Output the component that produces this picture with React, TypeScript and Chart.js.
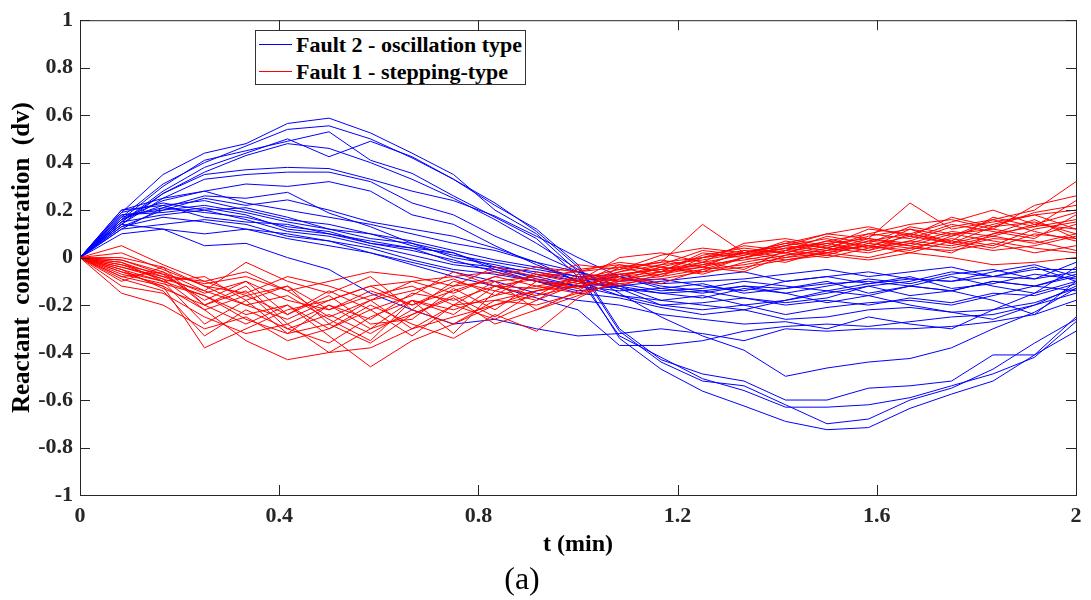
import React, { useEffect, useRef } from "react";
import { Chart, registerables } from "chart.js";

Chart.register(...registerables);

// time samples (min)
const tValues = [0, 0.0833, 0.1667, 0.25, 0.3333, 0.4167, 0.5, 0.5833, 0.6667, 0.75, 0.8333, 0.9167, 1, 1.0833, 1.1667, 1.25, 1.3333, 1.4167, 1.5, 1.5833, 1.6667, 1.75, 1.8333, 1.9167, 2];

const xTickValues = [0, 0.4, 0.8, 1.2, 1.6, 2];
const yTickValues = [-1, -0.8, -0.6, -0.4, -0.2, 0, 0.2, 0.4, 0.6, 0.8, 1];

const legendLabels = ["Fault 2 - oscillation type", "Fault 1 - stepping-type"];
const xTitle = "t (min)";
const yTitle = "Reactant  concentration  (dv)";
const caption = "(a)";

// Fault 2 - oscillation type (blue)
const blueA1 = [0, 0.19, 0.35, 0.44, 0.48, 0.565, 0.5875, 0.525, 0.44, 0.35, 0.2, 0.1, -0.06, -0.34, -0.47, -0.5625, -0.625, -0.69, -0.725, -0.716, -0.635, -0.575, -0.52, -0.41, -0.31];
const blueA2 = [0, 0.17, 0.31, 0.4, 0.47, 0.54, 0.555, 0.5, 0.42, 0.33, 0.23, 0.11, -0.04, -0.31, -0.44, -0.52, -0.54, -0.62, -0.7, -0.68, -0.6, -0.55, -0.47, -0.36, -0.26];
const blueA3 = [0, 0.16, 0.3, 0.41, 0.45, 0.49, 0.53, 0.41, 0.355, 0.26, 0.17, 0.08, -0.08, -0.33, -0.42, -0.51, -0.56, -0.63, -0.63, -0.62, -0.59, -0.54, -0.49, -0.42, -0.27];
const blueA4 = [0, 0.15, 0.28, 0.38, 0.44, 0.5, 0.425, 0.49, 0.425, 0.33, 0.22, 0.12, -0.03, -0.3, -0.43, -0.49, -0.52, -0.6, -0.6, -0.55, -0.54, -0.52, -0.41, -0.41, -0.25];
const blueA5 = [0, 0.14, 0.27, 0.36, 0.43, 0.48, 0.46, 0.4, 0.33, 0.25, 0.16, 0.06, -0.05, -0.15, -0.25, -0.33, -0.39, -0.5, -0.465, -0.44, -0.425, -0.38, -0.3, -0.23, -0.13];
const blueM1 = [0, 0.15, 0.27, 0.35, 0.37, 0.38, 0.375, 0.33, 0.28, 0.24, 0.175, 0.09, 0, -0.08, -0.12, -0.14, -0.12, -0.15, -0.12, -0.09, -0.11, -0.07, -0.05, -0.09, -0.06];
const blueM2 = [0, 0.14, 0.25, 0.33, 0.35, 0.36, 0.36, 0.32, 0.23, 0.18, 0.09, 0.02, -0.06, -0.12, -0.18, -0.2, -0.22, -0.18, -0.15, -0.12, -0.16, -0.14, -0.1, -0.12, -0.08];
const blueM3 = [0, 0.16, 0.24, 0.28, 0.31, 0.3, 0.32, 0.28, 0.18, 0.14, 0.05, -0.03, -0.1, -0.13, -0.15, -0.17, -0.13, -0.15, -0.19, -0.16, -0.12, -0.14, -0.18, -0.24, -0.1];
const blueM4 = [0, 0.12, 0.21, 0.26, 0.25, 0.275, 0.1875, 0.13, 0.06, 0.02, -0.05, -0.1, -0.12, -0.11, -0.14, -0.13, -0.1, -0.12, -0.14, -0.11, -0.08, -0.13, -0.11, -0.07, -0.09];
const blueM5 = [0, 0.13, 0.2, 0.25, 0.22, 0.243, 0.2, 0.15, 0.12, 0.09, 0.04, -0.02, -0.1, -0.16, -0.2, -0.22, -0.2, -0.24, -0.21, -0.19, -0.18, -0.2, -0.16, -0.12, -0.07];
const blueS1 = [0, 0.2, 0.25, 0.28, 0.23, 0.2, 0.17, 0.14, 0.1, 0.06, 0.03, -0.02, -0.06, -0.1, -0.09, -0.12, -0.14, -0.1, -0.08, -0.11, -0.09, -0.1, -0.06, -0.03, -0.08];
const blueS2 = [0, 0.19, 0.23, 0.2, 0.21, 0.17, 0.12, 0.1, 0.07, 0.03, -0.01, -0.04, -0.08, -0.12, -0.15, -0.14, -0.17, -0.19, -0.17, -0.12, -0.1, -0.06, -0.08, -0.04, -0.1];
const blueS3 = [0, 0.18, 0.2, 0.22, 0.19, 0.15, 0.12, 0.08, 0.06, 0, -0.03, -0.07, -0.1, -0.08, -0.13, -0.15, -0.12, -0.13, -0.1, -0.15, -0.12, -0.08, -0.12, -0.15, -0.04];
const blueS4 = [0, 0.16, 0.22, 0.17, 0.15, 0.14, 0.1, 0.07, 0.04, 0.02, -0.04, -0.06, -0.09, -0.13, -0.2, -0.19, -0.17, -0.2, -0.18, -0.2, -0.17, -0.19, -0.15, -0.16, -0.11];
const blueS5 = [0, 0.15, 0.18, 0.2, 0.16, 0.11, 0.09, 0.05, 0.01, -0.03, -0.05, -0.08, -0.12, -0.14, -0.13, -0.11, -0.15, -0.13, -0.11, -0.1, -0.12, -0.14, -0.1, -0.12, -0.14];
const blueS6 = [0, 0.17, 0.21, 0.19, 0.17, 0.13, 0.11, 0.06, 0.03, -0.01, -0.06, -0.1, -0.15, -0.17, -0.21, -0.24, -0.22, -0.26, -0.25, -0.22, -0.21, -0.23, -0.22, -0.19, -0.13];
const blueS7 = [0, 0.12, 0.14, 0.16, 0.14, 0.09, 0.07, 0.04, -0.01, -0.05, -0.07, -0.1, -0.14, -0.12, -0.1, -0.08, -0.06, -0.1, -0.08, -0.06, -0.09, -0.1, -0.08, -0.05, -0.05];
const blueS8 = [0, 0.14, 0.12, 0.1, 0.12, 0.08, 0.05, 0.02, -0.02, -0.06, -0.1, -0.15, -0.18, -0.2, -0.24, -0.26, -0.28, -0.27, -0.3, -0.25, -0.28, -0.3, -0.22, -0.15, -0.1];
const blueS9 = [0, 0.1, 0.12, 0.05, 0.06, 0, -0.05, -0.15, -0.22, -0.28, -0.26, -0.3, -0.33, -0.32, -0.3, -0.32, -0.35, -0.3, -0.31, -0.3, -0.3, -0.29, -0.27, -0.24, -0.18];
const blueS10 = [0, 0.13, 0.17, 0.15, 0.12, 0.1, 0.07, 0.02, -0.03, -0.08, -0.12, -0.17, -0.22, -0.37, -0.37, -0.35, -0.31, -0.29, -0.28, -0.29, -0.27, -0.25, -0.24, -0.2, -0.15];
const blueS11 = [0, 0.2, 0.22, 0.24, 0.2, 0.16, 0.14, 0.1, 0.05, 0.01, -0.02, -0.05, -0.08, -0.07, -0.11, -0.1, -0.09, -0.07, -0.05, -0.08, -0.06, -0.04, -0.08, -0.09, -0.02];
const blueS12 = [0, 0.18, 0.19, 0.21, 0.18, 0.12, 0.1, 0.06, 0.04, -0.02, -0.04, -0.09, -0.12, -0.16, -0.18, -0.16, -0.2, -0.18, -0.14, -0.16, -0.2, -0.23, -0.26, -0.2, -0.12];

// Fault 1 - stepping-type (red)
const red01 = [0, -0.02, -0.08, -0.15, -0.1, -0.18, -0.22, -0.14, -0.2, -0.12, -0.1, -0.08, -0.06, -0.04, -0.02, 0, 0.03, 0.02, 0.06, 0.08, 0.05, 0.1, 0.12, 0.09, 0.14];
const red02 = [0, -0.05, -0.1, -0.28, -0.18, -0.32, -0.2, -0.26, -0.15, -0.18, -0.12, -0.13, -0.1, -0.07, -0.05, -0.02, 0.01, 0.04, 0.02, 0.07, 0.1, 0.06, 0.13, 0.15, 0.1];
const red03 = [0, 0.05, -0.03, -0.1, -0.06, -0.14, -0.25, -0.18, -0.1, -0.08, -0.06, -0.1, -0.05, -0.03, -0.06, 0.02, 0, 0.05, 0.08, 0.04, 0.12, 0.09, 0.16, 0.2, 0.32];
const red04 = [0, -0.15, -0.2, -0.3, -0.25, -0.35, -0.3, -0.22, -0.33, -0.2, -0.18, -0.14, -0.12, -0.1, -0.08, -0.05, -0.03, 0, 0.02, 0, 0.04, 0.03, 0.06, 0.02, 0.05];
const red05 = [0, -0.1, -0.04, -0.2, -0.12, -0.28, -0.4, -0.3, -0.18, -0.22, -0.16, -0.12, -0.15, -0.08, -0.04, -0.06, 0, -0.02, 0.03, 0.05, 0.02, 0.07, 0.04, 0.1, 0.08];
const red06 = [0, -0.01, -0.06, -0.2, -0.28, -0.2, -0.33, -0.46, -0.35, -0.28, -0.2, -0.14, -0.1, -0.06, -0.03, -0.01, 0.02, 0.05, 0.03, 0.08, 0.06, 0.11, 0.09, 0.14, 0.12];
const red07 = [0, -0.08, -0.12, -0.38, -0.3, -0.22, -0.18, -0.12, -0.2, -0.14, -0.08, -0.12, -0.09, -0.05, -0.02, 0.14, 0.02, 0.06, 0.1, 0.08, 0.23, 0.12, 0.15, 0.18, 0.2];
const red08 = [0, -0.04, -0.09, -0.14, -0.02, -0.1, -0.15, -0.08, -0.22, -0.1, -0.14, -0.07, -0.11, -0.03, -0.06, 0.01, 0.04, 0.02, 0.07, 0.1, 0.08, 0.14, 0.11, 0.08, 0.18];
const red09 = [0, -0.06, -0.12, -0.22, -0.35, -0.43, -0.4, -0.38, -0.3, -0.25, -0.2, -0.16, -0.12, -0.08, -0.06, -0.03, -0.01, 0.02, 0, 0.04, 0.07, 0.05, 0.09, 0.06, 0.1];
const red10 = [0, 0.02, -0.05, -0.12, -0.2, -0.16, -0.26, -0.35, -0.18, -0.32, -0.14, -0.18, -0.08, -0.1, -0.04, -0.07, -0.02, 0.01, 0.05, 0.03, 0.1, 0.07, 0.17, 0.13, 0.24];
const red11 = [0, -0.03, -0.07, -0.18, -0.1, -0.24, -0.16, -0.28, -0.26, -0.13, -0.22, -0.1, -0.13, -0.06, -0.01, -0.04, 0.03, 0, 0.04, 0.09, 0.12, 0.06, 0.1, 0.16, 0.08];
const red12 = [0, -0.12, -0.15, -0.25, -0.32, -0.28, -0.2, -0.3, -0.24, -0.16, -0.25, -0.14, -0.1, -0.12, -0.07, -0.02, -0.05, 0.03, 0.01, 0.06, 0.04, 0.08, 0.05, 0.12, 0.15];
const red13 = [0, -0.02, -0.1, -0.08, -0.18, -0.12, -0.22, -0.16, -0.12, -0.2, -0.1, -0.22, -0.14, -0.04, -0.08, 0, 0.05, 0.03, 0.09, 0.06, 0.13, 0.1, 0.07, 0.04, 0.02];
const red14 = [0, -0.07, -0.11, -0.16, -0.24, -0.2, -0.3, -0.2, -0.28, -0.34, -0.24, -0.31, -0.17, -0.09, -0.11, -0.05, 0, 0.04, 0.06, 0.03, 0.07, 0.13, 0.16, 0.11, 0.07];
const red15 = [0, 0, -0.04, -0.12, -0.15, -0.08, -0.12, -0.18, -0.14, -0.09, -0.16, -0.06, -0.1, 0, 0.02, -0.02, 0.06, 0.08, 0.05, 0.12, 0.1, 0.15, 0.2, 0.14, 0.19];
const red16 = [0, -0.09, -0.14, -0.33, -0.22, -0.3, -0.24, -0.32, -0.22, -0.28, -0.18, -0.2, -0.15, -0.11, -0.09, -0.06, -0.04, -0.01, 0.01, -0.01, 0.02, 0, -0.03, -0.02, 0];
const red17 = [0, -0.04, -0.08, -0.1, -0.16, -0.24, -0.14, -0.22, -0.16, -0.06, -0.12, -0.16, -0.07, -0.08, -0.03, 0.03, 0.01, 0.07, 0.04, 0.1, 0.14, 0.16, 0.12, 0.22, 0.26];
const red18 = [0, -0.05, -0.13, -0.2, -0.14, -0.3, -0.36, -0.25, -0.18, -0.24, -0.12, -0.09, -0.13, -0.07, -0.05, -0.03, 0.02, -0.01, 0.02, 0.05, 0.03, 0.09, 0.14, 0.18, 0.12];
const red19 = [0, -0.08, -0.06, -0.14, -0.2, -0.26, -0.18, -0.12, -0.1, -0.15, -0.08, -0.04, -0.06, -0.02, -0.04, 0, 0.02, 0.06, 0.04, 0.02, 0.06, 0.04, 0.08, 0.07, 0.03];
const red20 = [0, -0.03, -0.09, -0.22, -0.16, -0.12, -0.28, -0.18, -0.3, -0.2, -0.26, -0.18, -0.11, -0.09, -0.07, -0.04, -0.06, 0.01, 0.03, 0.07, 0.05, 0.02, 0.1, 0.13, 0.16];
const red21 = [0, -0.06, -0.1, -0.16, -0.26, -0.32, -0.28, -0.36, -0.24, -0.17, -0.28, -0.22, -0.16, -0.1, -0.06, -0.04, 0, 0.03, 0.07, 0.05, 0.09, 0.06, 0.03, 0.05, 0.09];
const red22 = [0, -0.01, -0.07, -0.11, -0.08, -0.14, -0.1, -0.06, -0.08, -0.12, -0.04, -0.08, -0.03, -0.05, 0.01, 0.04, 0.02, 0.05, 0.1, 0.13, 0.09, 0.17, 0.13, 0.19, 0.22];

const fault2Series = [blueA1, blueA2, blueA3, blueA4, blueA5, blueM1, blueM2, blueM3, blueM4, blueM5, blueS1, blueS2, blueS3, blueS4, blueS5, blueS6, blueS7, blueS8, blueS9, blueS10, blueS11, blueS12];
const fault1Series = [red01, red02, red03, red04, red05, red06, red07, red08, red09, red10, red11, red12, red13, red14, red15, red16, red17, red18, red19, red20, red21, red22];

const BLUE = "#0000ff";
const RED = "#ff0000";
const AXIS_COLOR = "#262626";
const FONT = "'Liberation Serif', 'Times New Roman', serif";

const framePlugin = {
  id: "matlabFrame",
  beforeDraw(chart: any) {
    const { ctx, width, height } = chart;
    ctx.save();
    ctx.fillStyle = "#ffffff";
    ctx.fillRect(0, 0, width, height);
    ctx.restore();
  },
  afterDraw(chart: any) {
    const { ctx, chartArea, scales } = chart;
    const { left, right, top, bottom } = chartArea;
    const tick = 10;
    ctx.save();
    ctx.strokeStyle = AXIS_COLOR;
    ctx.lineWidth = 1;
    ctx.strokeRect(left + 0.5, top + 0.5, right - left, bottom - top);
    ctx.beginPath();
    xTickValues.forEach((v) => {
      const px = Math.round(scales.x.getPixelForValue(v)) + 0.5;
      ctx.moveTo(px, bottom);
      ctx.lineTo(px, bottom - tick);
      ctx.moveTo(px, top);
      ctx.lineTo(px, top + tick);
    });
    yTickValues.forEach((v) => {
      const py = Math.round(scales.y.getPixelForValue(v)) + 0.5;
      ctx.moveTo(left, py);
      ctx.lineTo(left + tick, py);
      ctx.moveTo(right, py);
      ctx.lineTo(right - tick, py);
    });
    ctx.stroke();
    ctx.restore();
  },
};

function toPoints(values: number[]) {
  return values.map((v, i) => ({ x: tValues[i], y: v }));
}

export default function App() {
  const canvasRef = useRef<HTMLCanvasElement>(null);

  useEffect(() => {
    document.body.style.margin = "0";
    const datasets: any[] = [];
    fault2Series.forEach((s, i) => {
      datasets.push({
        label: i === 0 ? legendLabels[0] : "",
        data: toPoints(s),
        borderColor: BLUE,
        borderWidth: 1,
        pointRadius: 0,
        fill: false,
        tension: 0,
        order: 1,
      });
    });
    fault1Series.forEach((s, i) => {
      datasets.push({
        label: i === 0 ? legendLabels[1] : "",
        data: toPoints(s),
        borderColor: RED,
        borderWidth: 1,
        pointRadius: 0,
        fill: false,
        tension: 0,
        order: 0,
      });
    });

    const chart = new Chart(canvasRef.current as HTMLCanvasElement, {
      type: "line",
      data: { datasets },
      options: {
        animation: false,
        responsive: false,
        devicePixelRatio: 1,
        layout: { padding: { left: 0, right: 15, top: 15, bottom: 41 } },
        plugins: {
          legend: { display: false },
          tooltip: { enabled: false },
        },
        scales: {
          x: {
            type: "linear",
            min: 0,
            max: 2,
            afterBuildTicks: (axis: any) => {
              axis.ticks = xTickValues.map((v) => ({ value: v }));
            },
            afterFit: (axis: any) => {
              axis.height = 64;
            },
            ticks: {
              color: AXIS_COLOR,
              font: { family: FONT, size: 22, weight: "bold" },
              padding: 8,
              maxRotation: 0,
              autoSkip: false,
              callback: (v: any) => String(Math.round(Number(v) * 10) / 10),
            },
            grid: { display: false, drawTicks: false },
            border: { display: false },
            title: {
              display: true,
              text: xTitle,
              color: "#000",
              font: { family: FONT, size: 24, weight: "bold" },
              padding: { top: 0, bottom: 0 },
            },
          },
          y: {
            type: "linear",
            min: -1,
            max: 1,
            afterBuildTicks: (axis: any) => {
              axis.ticks = yTickValues.map((v) => ({ value: v }));
            },
            afterFit: (axis: any) => {
              axis.width = 80;
            },
            ticks: {
              color: AXIS_COLOR,
              font: { family: FONT, size: 22, weight: "bold" },
              padding: 7,
              autoSkip: false,
              callback: (v: any) => String(Math.round(Number(v) * 10) / 10),
            },
            grid: { display: false, drawTicks: false },
            border: { display: false },
            title: {
              display: true,
              text: yTitle,
              color: "#000",
              font: { family: FONT, size: 25, weight: "bold" },
              padding: { top: 8, bottom: 0 },
            },
          },
        },
      },
      plugins: [framePlugin],
    } as any);

    return () => chart.destroy();
  }, []);

  const rowStyle: React.CSSProperties = {
    display: "flex",
    alignItems: "center",
    height: 27,
  };
  const swatch = (color: string): React.CSSProperties => ({
    display: "inline-block",
    width: 33,
    height: 0,
    borderTop: `1px solid ${color}`,
    marginLeft: 3,
    marginRight: 4,
  });

  return (
    <div style={{ position: "relative", width: 1091, height: 600, background: "#fff", overflow: "hidden" }}>
      <canvas ref={canvasRef} width={1091} height={600} style={{ display: "block" }} />
      <div
        style={{
          position: "absolute",
          left: 255,
          top: 30,
          width: 271,
          height: 55,
          boxSizing: "border-box",
          border: "1px solid #333",
          background: "#fff",
          fontFamily: FONT,
          fontWeight: "bold",
          fontSize: 22,
          color: "#000",
          whiteSpace: "nowrap",
          paddingTop: 0,
        }}
      >
        <div style={rowStyle}>
          <span style={swatch(BLUE)} />
          <span>{legendLabels[0]}</span>
        </div>
        <div style={rowStyle}>
          <span style={swatch(RED)} />
          <span>{legendLabels[1]}</span>
        </div>
      </div>
      <div
        style={{
          position: "absolute",
          left: 472,
          width: 100,
          top: 558,
          textAlign: "center",
          fontFamily: FONT,
          fontSize: 32,
          lineHeight: "40px",
          color: "#000",
        }}
      >
        {caption}
      </div>
    </div>
  );
}
